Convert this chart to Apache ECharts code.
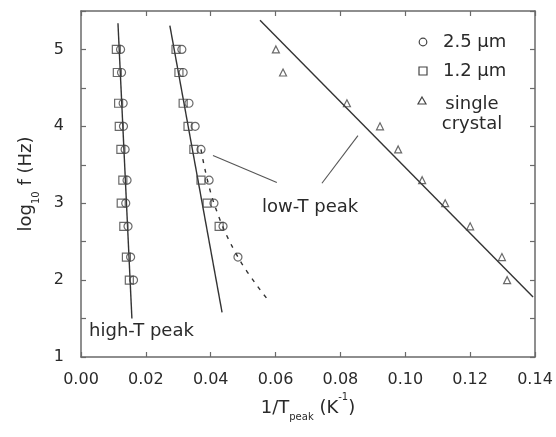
<!DOCTYPE html>
<html><head><meta charset="utf-8">
<script src="https://cdn.jsdelivr.net/npm/echarts@6/dist/echarts.min.js"></script>
<style>html,body{margin:0;padding:0;background:#fff}#c{width:556px;height:437px}</style>
</head><body><div id="c"></div>
<script>
// log10 f values (Hz)
const logF = [5.0, 4.7, 4.3, 4.0, 3.7, 3.3, 3.0, 2.7, 2.3, 2.0];
// high-T peak, 1/Tpeak (K^-1)
const highTSquare = [0.0109, 0.0112, 0.0116, 0.0118, 0.0123, 0.0129, 0.0124, 0.0132, 0.0140, 0.0149];
const highTCircle = [0.0122, 0.0125, 0.0130, 0.0131, 0.0136, 0.0142, 0.0138, 0.0145, 0.0153, 0.0162];
// low-T peak polycrystals
const lowTSquareY = [5.0, 4.7, 4.3, 4.0, 3.7, 3.3, 3.0, 2.7];
const lowTSquare  = [0.0293, 0.0302, 0.0315, 0.0330, 0.0348, 0.0370, 0.0389, 0.0426];
const lowTCircleY = [5.0, 4.7, 4.3, 4.0, 3.7, 3.3, 3.0, 2.7, 2.3];
const lowTCircle  = [0.0311, 0.0315, 0.0333, 0.0352, 0.0370, 0.0395, 0.0410, 0.0438, 0.0484];
// single crystal
const crystalX = [0.0601, 0.0623, 0.0820, 0.0922, 0.0978, 0.1052, 0.1123, 0.1200, 0.1298, 0.1314];
// fit lines
const highTFitX = [0.0114, 0.0157], highTFitY = [5.34, 1.50];
const lowTFitX = [0.0274, 0.0435], lowTFitY = [5.31, 1.58];
const lowTDashX = [0.0370, 0.0410, 0.0484, 0.0577], lowTDashY = [3.70, 3.00, 2.30, 1.74];
const crystalFitX = [0.0552, 0.1394], crystalFitY = [5.38, 1.78];
// annotation leader lines
const leader1X = [0.0407, 0.0604], leader1Y = [3.62, 3.27];
const leader2X = [0.0743, 0.0854], leader2Y = [3.26, 3.88];
const xTickLabels = ['0.00','0.02','0.04','0.06','0.08','0.10','0.12','0.14'];
const yTickLabels = ['1','2','3','4','5'];

const FONT = 'DejaVu Sans';
const TXT = '#2a2a2a';
const AX = '#6a6a6a';
const SYM = '#444';

const zip = (xs, ys) => xs.map((x, i) => [x, ys[i]]);

const chart = echarts.init(document.getElementById('c'), null, {renderer: 'canvas'});

function scatter(data, symbol, size) {
  return {type: 'scatter', data, symbol, symbolSize: size, z: 5,
    itemStyle: {color: 'rgba(0,0,0,0)', borderColor: SYM, borderWidth: 1.2}};
}
function line(data, opts) {
  return Object.assign({type: 'line', data, symbol: 'none', z: 3,
    lineStyle: {color: '#333', width: 1.4}}, opts || {});
}

const axisCommon = {
  axisLine: {show: true, onZero: false, lineStyle: {color: AX, width: 1.5}},
  axisTick: {show: true, inside: true, length: 5, lineStyle: {color: AX, width: 1.2}},
  splitLine: {show: false}
};

chart.setOption({
  animation: false,
  backgroundColor: '#fff',
  grid: {left: 81, right: 21, top: 11, bottom: 80},
  xAxis: [
    Object.assign({type: 'value', position: 'bottom', min: 0, max: 0.14, interval: 0.02,
      axisLabel: {formatter: (v) => xTickLabels[Math.round(v / 0.02)], fontFamily: FONT, fontSize: 16, color: TXT, margin: 15},
      name: '{m|1/T}{sub|peak}{m| (K}{sup|-1}{m|)}', nameLocation: 'middle', nameGap: 35,
      nameTextStyle: {rich: {
        m: {fontFamily: FONT, fontSize: 18, color: TXT, lineHeight: 30, verticalAlign: 'middle'},
        sub: {fontFamily: FONT, fontSize: 10, color: TXT, lineHeight: 8, verticalAlign: 'bottom'},
        sup: {fontFamily: FONT, fontSize: 10, color: TXT, lineHeight: 18, verticalAlign: 'top'}
      }}
    }, axisCommon),
    Object.assign({type: 'value', position: 'top', min: 0, max: 0.14, interval: 0.02,
      axisLabel: {show: false}}, axisCommon)
  ],
  yAxis: [
    Object.assign({type: 'value', position: 'left', min: 1, max: 5.5, interval: 0.5,
      axisLabel: {formatter: (v) => Math.abs(v - Math.round(v)) < 1e-6 ? yTickLabels[Math.round(v) - 1] || '' : '',
        fontFamily: FONT, fontSize: 16, color: TXT, margin: 17},
      name: '{m|log}{sub|10}{m| f (Hz)}', nameLocation: 'middle', nameGap: 40, nameRotate: 90,
      nameTextStyle: {rich: {
        m: {fontFamily: FONT, fontSize: 18, color: TXT, lineHeight: 30, verticalAlign: 'middle'},
        sub: {fontFamily: FONT, fontSize: 10, color: TXT, lineHeight: 14, verticalAlign: 'bottom'}
      }}
    }, axisCommon),
    Object.assign({type: 'value', position: 'right', min: 1, max: 5.5, interval: 0.5,
      axisLabel: {show: false}}, axisCommon)
  ],
  series: [
    line(zip(highTFitX, highTFitY)),
    line(zip(lowTFitX, lowTFitY)),
    line(zip(lowTDashX, lowTDashY), {smooth: 0.4, lineStyle: {color: '#333', width: 1.4, type: [4, 6]}}),
    line(zip(crystalFitX, crystalFitY)),
    line(zip(leader1X, leader1Y), {lineStyle: {color: '#555', width: 1.1}}),
    line(zip(leader2X, leader2Y), {lineStyle: {color: '#555', width: 1.1}}),
    scatter(zip(highTSquare, logF), 'rect', 8),
    scatter(zip(highTCircle, logF), 'circle', 8),
    scatter(zip(lowTSquare, lowTSquareY), 'rect', 8),
    scatter(zip(lowTCircle, lowTCircleY), 'circle', 8),
    scatter(zip(crystalX, logF), 'triangle', 7)
  ]
});

const p1 = chart.convertToPixel({xAxisIndex: 0, yAxisIndex: 0}, [0.0558, 2.95]);
const p2 = chart.convertToPixel({xAxisIndex: 0, yAxisIndex: 0}, [0.0025, 1.34]);
const tStyle = (t, extra) => Object.assign({text: t, fontFamily: FONT, fontSize: 18, fill: TXT, verticalAlign: 'middle'}, extra || {});
chart.setOption({
  graphic: [
    {type: 'text', x: p1[0], y: p1[1], style: tStyle('low-T peak')},
    {type: 'text', x: p2[0], y: p2[1], style: tStyle('high-T peak')},
    // legend
    {type: 'circle', shape: {cx: 423, cy: 42, r: 3.8}, style: {fill: 'none', stroke: SYM, lineWidth: 1.2}},
    {type: 'rect', shape: {x: 419, y: 67, width: 8, height: 8}, style: {fill: 'none', stroke: SYM, lineWidth: 1.2}},
    {type: 'polygon', shape: {points: [[422, 97], [426, 104], [418, 104]]}, style: {fill: 'none', stroke: SYM, lineWidth: 1.2}},
    {type: 'text', x: 443, y: 42, style: tStyle('2.5 µm')},
    {type: 'text', x: 443, y: 71, style: tStyle('1.2 µm')},
    {type: 'text', x: 472, y: 114, style: tStyle('single\ncrystal', {align: 'center', lineHeight: 20})}
  ]
});
</script></body></html>
